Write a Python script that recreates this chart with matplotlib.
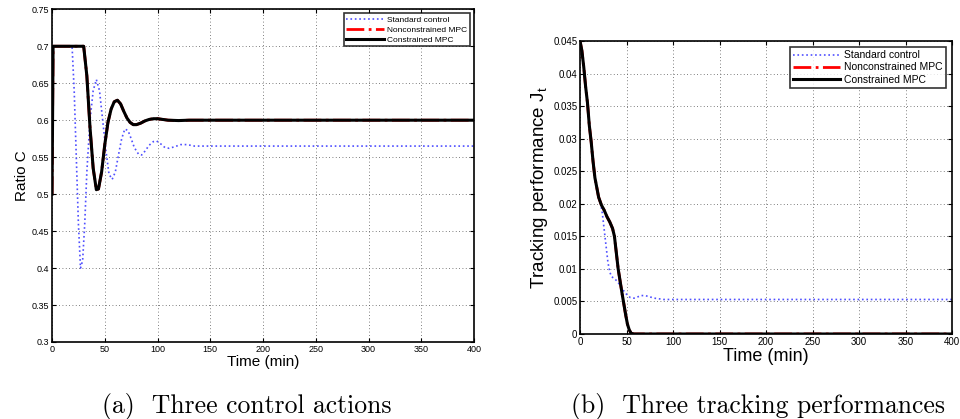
import matplotlib
matplotlib.use("Agg")
import matplotlib.pyplot as plt
import numpy

plt.rcParams['font.family'] = ['Liberation Sans', 'DejaVu Sans']
plt.rcParams['mathtext.fontset'] = 'custom'
plt.rcParams['mathtext.rm'] = 'Liberation Sans'
plt.rcParams['mathtext.it'] = 'Liberation Sans'

# (a) control actions: ratio C
t_std_a = [0, 1, 19, 21, 23, 25, 27, 29, 31, 33, 36, 39, 42, 45, 48, 51, 54, 57, 60, 63, 66, 69, 72,
           75, 78, 82, 85, 88, 92, 96, 99, 103, 107, 111, 116, 122, 128, 135, 400]
c_std = [0.5, 0.7, 0.7, 0.64, 0.55, 0.46, 0.40, 0.41, 0.46, 0.53, 0.60, 0.64, 0.655, 0.64, 0.60, 0.56,
         0.527, 0.52, 0.53, 0.553, 0.575, 0.588, 0.586, 0.575, 0.563, 0.554, 0.553, 0.558, 0.566, 0.571,
         0.572, 0.568, 0.563, 0.562, 0.564, 0.567, 0.567, 0.565, 0.565]
t_mpc_a = [0, 1, 30, 33, 36, 39, 42, 44, 47, 50, 53, 56, 59, 62, 65, 68, 71, 74, 77, 80, 84, 88, 92,
           96, 100, 105, 110, 120, 130, 400]
c_mpc = [0.5, 0.7, 0.7, 0.66, 0.59, 0.535, 0.506, 0.507, 0.53, 0.567, 0.597, 0.615, 0.625, 0.627,
         0.622, 0.612, 0.603, 0.597, 0.594, 0.594, 0.596, 0.599, 0.601, 0.602, 0.602, 0.601, 0.600,
         0.5995, 0.600, 0.600]

# (b) tracking performance J_t
t_mpc_b = [0, 2, 4, 6, 8, 10, 12, 14, 16, 18, 20, 23, 26, 29, 32, 35, 37, 39, 41, 43, 45, 47, 49, 51,
           53, 55, 58, 400]
j_mpc = [0.045, 0.0435, 0.041, 0.038, 0.0355, 0.032, 0.0295, 0.0265, 0.024, 0.0225, 0.021, 0.0198,
         0.019, 0.018, 0.0172, 0.0162, 0.015, 0.0125, 0.0100, 0.0082, 0.0064, 0.0047, 0.003, 0.0015,
         0.0006, 0.0001, 0.0, 0.0]
t_std_b = [0, 2, 4, 6, 8, 10, 12, 14, 16, 18, 20, 22, 24, 26, 28, 30, 32, 34, 37, 40, 43, 46, 50, 54,
           58, 62, 66, 70, 75, 80, 90, 100, 400]
j_std = [0.045, 0.0435, 0.041, 0.038, 0.0355, 0.032, 0.0295, 0.0265, 0.024, 0.0225, 0.021, 0.0202,
         0.0185, 0.016, 0.0135, 0.011, 0.0095, 0.0088, 0.0085, 0.0081, 0.0075, 0.0068, 0.0061, 0.0056,
         0.0055, 0.0057, 0.0059, 0.0059, 0.0057, 0.0055, 0.0053, 0.0053, 0.0053]

labels = ['Standard control', 'Nonconstrained MPC', 'Constrained MPC']
x_ticks = [0, 50, 100, 150, 200, 250, 300, 350, 400]
ya_ticks = [0.3, 0.35, 0.4, 0.45, 0.5, 0.55, 0.6, 0.65, 0.7, 0.75]
ya_labels = ['0.3', '0.35', '0.4', '0.45', '0.5', '0.55', '0.6', '0.65', '0.7', '0.75']
yb_ticks = [0, 0.005, 0.01, 0.015, 0.02, 0.025, 0.03, 0.035, 0.04, 0.045]
yb_labels = ['0', '0.005', '0.01', '0.015', '0.02', '0.025', '0.03', '0.035', '0.04', '0.045']

fig = plt.figure(figsize=(9.6, 4.19), dpi=100)
ax1 = fig.add_axes([0.0542, 0.1838, 0.4396, 0.794])
ax2 = fig.add_axes([0.6042, 0.2029, 0.3875, 0.6993])


def style(ax, yt, yl, tick_size, xlabel_size):
    ax.set_xlim(0, 400)
    ax.set_xticks(x_ticks)
    ax.set_xticklabels([str(v) for v in x_ticks])
    ax.set_yticks(yt)
    ax.set_yticklabels(yl)
    ax.set_ylim(yt[0], yt[-1])
    ax.tick_params(direction='in', top=True, right=True, labelsize=tick_size, length=3, width=0.8, pad=2)
    ax.grid(True, linestyle=(0, (1, 3)), color='#555555', linewidth=0.6)
    for s in ax.spines.values():
        s.set_linewidth(1.2)
    ax.set_xlabel('Time (min)', fontsize=xlabel_size, labelpad=1)


ax1.plot(t_std_a, c_std, ':', color='#4f4fff', linewidth=1.2, label=labels[0])
ax1.plot(t_mpc_a, c_mpc, '-.', color='red', linewidth=2, label=labels[1])
ax1.plot(t_mpc_a, c_mpc, '-', color='black', linewidth=2.2, label=labels[2])
style(ax1, ya_ticks, ya_labels, 6.5, 11)
ax1.set_ylabel('Ratio C', fontsize=11, labelpad=2)
leg1 = ax1.legend(loc='upper right', fontsize=6, fancybox=False, edgecolor='black',
                  borderpad=0.3, labelspacing=0.25, handlelength=4.5, handletextpad=0.4,
                  borderaxespad=0.5)
leg1.get_frame().set_linewidth(1.2)

ax2.plot(t_std_b, j_std, ':', color='#4f4fff', linewidth=1.2, label=labels[0])
ax2.plot(t_mpc_b, j_mpc, '-.', color='red', linewidth=2, label=labels[1])
ax2.plot(t_mpc_b, j_mpc, '-', color='black', linewidth=2.2, label=labels[2])
style(ax2, yb_ticks, yb_labels, 7, 13)
ax2.set_ylabel('Tracking performance J$_t$', fontsize=13.5, labelpad=2)
leg2 = ax2.legend(loc='upper right', fontsize=7.5, fancybox=False, edgecolor='black',
                  borderpad=0.3, labelspacing=0.2, handlelength=4.5, handletextpad=0.4,
                  borderaxespad=0.6)
leg2.get_frame().set_linewidth(1.2)

fig.text(0.257, 0.029, '(a)  Three control actions', fontsize=18.5, family='cmr10',
         ha='center', va='center')
fig.text(0.79, 0.029, '(b)  Three tracking performances', fontsize=18.5, family='cmr10',
         ha='center', va='center')

fig.savefig('out.png', dpi=100)
